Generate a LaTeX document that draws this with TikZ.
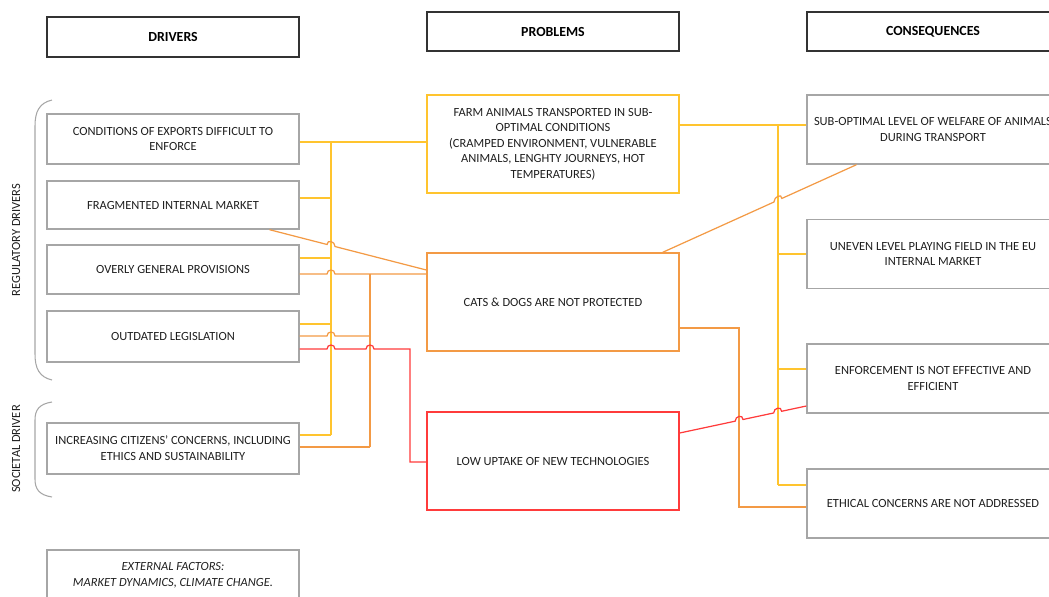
\documentclass[tikz,border=0pt]{standalone}
\usepackage{fontspec}
\setmainfont{Carlito}
\usepackage{tikz}
\usetikzlibrary{positioning, calc}

\definecolor{boxgray}{HTML}{A6A6A6}
\definecolor{txtgray}{HTML}{1F1F1F}
\definecolor{yel}{HTML}{FFC42E}
\definecolor{ora}{HTML}{F39A45}
\definecolor{redl}{HTML}{FF3B3B}

\begin{document}
\begin{tikzpicture}[
    x=0.02cm, y=-0.02cm,
    font=\fontsize{7.1}{9}\selectfont, text=txtgray,
    header/.style={rectangle, draw=black!80, line width=0.9pt, minimum width=5.04cm, minimum height=0.79cm, font=\fontsize{7.9}{9}\selectfont\bfseries, text=black},
    driver/.style={rectangle, draw=boxgray, line width=0.8pt, minimum width=5.04cm, align=center, inner sep=2pt},
    problem/.style={rectangle, line width=0.8pt, minimum width=5.04cm, minimum height=1.96cm, align=center, font=\fontsize{7.1}{8.8}\selectfont},
    consequence/.style={driver, minimum height=1.38cm},
    yline/.style={draw=yel, line width=0.7pt},
    oline/.style={draw=ora, line width=0.7pt},
    rline/.style={draw=redl, line width=0.7pt},
    brace/.style={draw=boxgray, line width=0.6pt}
]
\clip (0,0) rectangle (1049,596);

% Column headers
\node[header] (hdrdrivers) at (173,37) {DRIVERS};
\node[header] (hdrproblems) at (553,31.5) {PROBLEMS};
\node[header] (hdrconseq) at (933,31.5) {CONSEQUENCES};

% Drivers
\node[driver, minimum height=1cm] (cond) at (173,139) {CONDITIONS OF EXPORTS DIFFICULT TO\\ENFORCE};
\node[driver, minimum height=0.96cm] (frag) at (173,205) {FRAGMENTED INTERNAL MARKET};
\node[driver, minimum height=0.98cm] (overly) at (173,269.5) {OVERLY GENERAL PROVISIONS};
\node[driver, minimum height=1.02cm] (outdated) at (173,336.5) {OUTDATED LEGISLATION};
\node[driver, minimum height=1.02cm] (citizens) at (173,448.5) {INCREASING CITIZENS’ CONCERNS, INCLUDING\\ETHICS AND SUSTAINABILITY};
\node[driver, minimum height=1cm, font=\fontsize{7.1}{9}\selectfont\itshape] (external) at (173,575) {EXTERNAL FACTORS:\\MARKET DYNAMICS, CLIMATE CHANGE.};

% Driver groups
\draw[brace] (52,100) .. controls (39,103) and (35,112) .. (35,126) -- (35,354) .. controls (35,368) and (39,377) .. (52,380);
\draw[brace] (52,402) .. controls (39,404) and (35,410) .. (35,420) -- (35,479) .. controls (35,489) and (39,495) .. (52,497);
\node[rotate=90] (reglabel) at (16,240) {REGULATORY DRIVERS};
\node[rotate=90] (soclabel) at (16,449) {SOCIETAL DRIVER};

% Problems
\node[problem, draw=yel] (farm) at (553,144) {FARM ANIMALS TRANSPORTED IN SUB-\\OPTIMAL CONDITIONS\\(CRAMPED ENVIRONMENT, VULNERABLE\\ANIMALS, LENGHTY JOURNEYS, HOT\\TEMPERATURES)};
\node[problem, draw=ora] (cats) at (553,302) {CATS \& DOGS ARE NOT PROTECTED};
\node[problem, draw=redl] (lowup) at (553,461) {LOW UPTAKE OF NEW TECHNOLOGIES};

% Consequences
\node[consequence] (subopt) at (933,129.5) {SUB-OPTIMAL LEVEL OF WELFARE OF ANIMALS\\DURING TRANSPORT};
\node[consequence] (uneven) at (933,254) {UNEVEN LEVEL PLAYING FIELD IN THE EU\\INTERNAL MARKET};
\node[consequence] (enforce) at (933,378.5) {ENFORCEMENT IS NOT EFFECTIVE AND\\EFFICIENT};
\node[consequence] (ethical) at (933,503.5) {ETHICAL CONCERNS ARE NOT ADDRESSED};

% Bus lines
\coordinate (busY) at (331,0);
\coordinate (busO) at (370,0);
\coordinate (busR) at (410,0);
\coordinate (busOR) at (739,0);
\coordinate (busYR) at (778,0);

% Drivers -> farm animals
\coordinate (y1) at ($(cond.east)+(0,3)$);
\coordinate (y2) at ($(frag.east)+(0,-7)$);
\coordinate (y3) at ($(overly.east)+(0,-11.5)$);
\coordinate (y4) at ($(outdated.east)+(0,-12.5)$);
\coordinate (y5) at ($(citizens.east)+(0,-13.5)$);
\draw[yline] (y1) -- (farm.west |- y1);
\draw[yline] (busY |- y1) -- (busY |- y5);
\draw[yline] (y2) -- (busY |- y2);
\draw[yline] (y3) -- (busY |- y3);
\draw[yline] (y4) -- (busY |- y4);
\draw[yline] (y5) -- (busY |- y5);

% Drivers -> cats & dogs
\coordinate (f1) at ($(frag.south west)!0.881!(frag.south east)$);
\coordinate (f2) at ($(cats.west)+(0,-32)$);
\coordinate (o2) at ($(overly.east)+(0,4.5)$);
\coordinate (o3) at ($(outdated.east)+(0,-0.5)$);
\coordinate (o4) at ($(citizens.east)+(0,-1.5)$);
\draw[oline] (f1) -- ($(f1)!0.367!(f2)$) .. controls +(0,-5.3) and +(0,-5.3) .. ($(f1)!0.418!(f2)$) -- (f2);
\draw[oline] (o2) -- ($(busY |- o2)+(-4,0)$) .. controls +(0,-5.3) and +(0,-5.3) .. ($(busY |- o2)+(4,0)$) -- (cats.west |- o2);
\draw[oline] (o3) -- ($(busY |- o3)+(-4,0)$) .. controls +(0,-5.3) and +(0,-5.3) .. ($(busY |- o3)+(4,0)$) -- (busO |- o3);
\draw[oline] (o4) -- (busO |- o4);
\draw[oline] (busO |- o2) -- (busO |- o4);

% Outdated legislation -> low uptake
\coordinate (r1) at ($(outdated.east)+(0,12.5)$);
\coordinate (r2) at ($(lowup.west)+(0,1)$);
\draw[rline] (r1) -- ($(busY |- r1)+(-4,0)$) .. controls +(0,-5.3) and +(0,-5.3) .. ($(busY |- r1)+(4,0)$)
    -- ($(busO |- r1)+(-4,0)$) .. controls +(0,-5.3) and +(0,-5.3) .. ($(busO |- r1)+(4,0)$)
    -- (busR |- r1) |- (r2);

% Farm animals -> consequences
\coordinate (y6) at ($(farm.east)+(0,-19)$);
\coordinate (y8) at ($(enforce.west)+(0,-9.5)$);
\coordinate (y9) at ($(ethical.west)+(0,-18.5)$);
\draw[yline] (y6) -- (subopt.west |- y6);
\draw[yline] (busYR |- y6) -- (busYR |- y9);
\draw[yline] (busYR |- uneven.west) -- (uneven.west);
\draw[yline] (busYR |- y8) -- (y8);
\draw[yline] (busYR |- y9) -- (y9);

% Cats & dogs -> consequences
\coordinate (c1) at ($(cats.north west)!0.933!(cats.north east)$);
\coordinate (c2) at ($(subopt.south west)!0.198!(subopt.south east)$);
\coordinate (c3) at ($(cats.east)+(0,26)$);
\coordinate (e3) at ($(ethical.west)+(0,3.5)$);
\draw[oline] (c1) -- ($(c1)!0.574!(c2)$) .. controls +(0,-5.3) and +(0,-5.3) .. ($(c1)!0.615!(c2)$) -- (c2);
\draw[oline] (c3) -| (busOR |- e3) -- (e3);

% Low uptake -> enforcement
\coordinate (l1) at ($(lowup.east)+(0,-28)$);
\coordinate (l2) at ($(enforce.west)+(0,27.5)$);
\draw[rline] (l1) -- ($(l1)!0.438!(l2)$) .. controls +(0,-5.3) and +(0,-5.3) .. ($(l1)!0.5!(l2)$)
    -- ($(l1)!0.742!(l2)$) .. controls +(0,-5.3) and +(0,-5.3) .. ($(l1)!0.805!(l2)$) -- (l2);

\end{tikzpicture}
\end{document}
